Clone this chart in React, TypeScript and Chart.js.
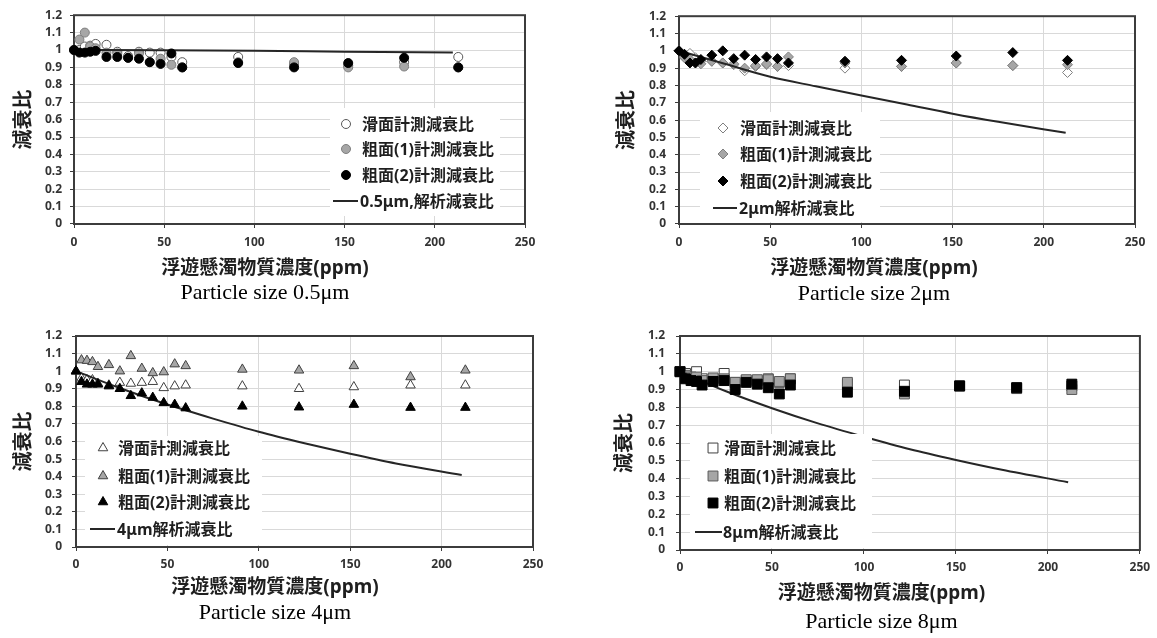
import React, { useEffect, useRef } from 'react';
import { Chart, registerables } from 'chart.js';
import { drawPoint } from 'chart.js/helpers';

Chart.register(...registerables);

// ---------- DATA ----------
const CONC = [0, 3, 6, 9, 12, 18, 24, 30, 36, 42, 48, 54, 60, 91, 122, 152, 183, 213];
const X_TICK_MIN = 0;
const X_TICK_MAX = 250;
const X_TICK_STEP = 50;
const Y_TICK_MIN = 0;
const Y_TICK_MAX = 1.2;
const Y_TICK_STEP = 0.1;

const SERIES_NAMES = ['滑面計測減衰比', '粗面(1)計測減衰比', '粗面(2)計測減衰比'];
const X_TITLE = '浮遊懸濁物質濃度(ppm)';
const Y_TITLE = '減衰比';

// 0.5 μm
const SMOOTH_05 = [1.0, 1.0, 1.02, 1.025, 1.035, 1.03, 0.99, 0.965, 0.99, 0.985, 0.985, 0.96, 0.93, 0.96, 0.92, 0.91, 0.93, 0.96];
const ROUGH1_05 = [1.0, 1.06, 1.1, 1.02, 1.01, 0.985, 0.98, 0.955, 0.98, 0.93, 0.95, 0.915, 0.9, 0.93, 0.93, 0.9, 0.905, 0.9];
const ROUGH2_05 = [1.0, 0.985, 0.985, 0.99, 0.995, 0.96, 0.96, 0.955, 0.95, 0.93, 0.92, 0.98, 0.9, 0.925, 0.9, 0.925, 0.955, 0.9];
const ANALYSIS_X_05 = [0, 50, 100, 150, 210];
const ANALYSIS_Y_05 = [1.0, 0.998, 0.995, 0.99, 0.985];

// 2 μm
const SMOOTH_2 = [1.0, 0.97, 0.985, 0.96, 0.94, 0.94, 0.93, 0.92, 0.885, 0.91, 0.92, 0.91, 0.915, 0.9, 0.91, 0.93, 0.915, 0.875];
const ROUGH1_2 = [1.0, 0.96, 0.95, 0.93, 0.925, 0.94, 0.93, 0.925, 0.9, 0.915, 0.925, 0.91, 0.965, 0.93, 0.91, 0.93, 0.915, 0.92];
const ROUGH2_2 = [1.0, 0.98, 0.93, 0.93, 0.95, 0.975, 1.0, 0.955, 0.975, 0.95, 0.965, 0.955, 0.93, 0.94, 0.945, 0.97, 0.99, 0.945];
const ANALYSIS_X_2 = [0, 25, 50, 75, 100, 125, 150, 175, 212];
const ANALYSIS_Y_2 = [1.0, 0.925, 0.85, 0.795, 0.742, 0.69, 0.637, 0.59, 0.527];

// 4 μm
const SMOOTH_4 = [1.0, 0.96, 0.95, 0.95, 0.93, 0.92, 0.935, 0.93, 0.935, 0.94, 0.905, 0.915, 0.92, 0.915, 0.9, 0.91, 0.92, 0.92];
const ROUGH1_4 = [1.0, 1.063, 1.06, 1.053, 1.025, 1.036, 1.0, 1.087, 1.015, 0.99, 0.995, 1.04, 1.03, 1.01, 1.005, 1.03, 0.967, 1.005];
const ROUGH2_4 = [1.0, 0.94, 0.925, 0.925, 0.925, 0.915, 0.9, 0.86, 0.875, 0.85, 0.82, 0.81, 0.79, 0.8, 0.795, 0.81, 0.793, 0.793];
const ANALYSIS_X_4 = [0, 25, 50, 75, 100, 125, 150, 175, 211];
const ANALYSIS_Y_4 = [1.0, 0.9, 0.81, 0.73, 0.655, 0.59, 0.53, 0.475, 0.41];

// 8 μm
const SMOOTH_8 = [1.0, 0.99, 0.97, 1.0, 0.96, 0.96, 0.99, 0.94, 0.95, 0.95, 0.96, 0.94, 0.96, 0.93, 0.925, 0.92, 0.91, 0.92];
const ROUGH1_8 = [1.0, 0.98, 0.97, 0.97, 0.95, 0.965, 0.96, 0.94, 0.955, 0.955, 0.955, 0.945, 0.96, 0.94, 0.875, 0.92, 0.905, 0.9];
const ROUGH2_8 = [1.0, 0.96, 0.95, 0.945, 0.925, 0.945, 0.95, 0.9, 0.94, 0.93, 0.91, 0.875, 0.925, 0.885, 0.89, 0.92, 0.91, 0.93];
const ANALYSIS_X_8 = [0, 25, 50, 75, 100, 125, 150, 175, 211];
const ANALYSIS_Y_8 = [1.0, 0.89, 0.795, 0.71, 0.635, 0.565, 0.505, 0.45, 0.38];

// ---------- STYLE / LAYOUT ----------
const SANS = '"Noto Sans", "Noto Sans CJK JP", sans-serif';
const SERIF = '"Liberation Serif", "DejaVu Serif", serif';
const TICK_SIZE = 12;
const TICK_LEN = 4;
const AXIS_TITLE_SIZE = 19;
const SUB_SIZE = 22;
const Y_TITLE_SIZE = 20;
const LEGEND_SIZE = 16;
const GRID = '#d9d9d9';
const FRAME = '#3c3c3c';
const TEXT = '#1f1f1f';

const PANELS = [
  {
    id: 'p05', subtitle: 'Particle size 0.5μm', lineLabel: '0.5μm,解析減衰比',
    smooth: SMOOTH_05, rough1: ROUGH1_05, rough2: ROUGH2_05, lineX: ANALYSIS_X_05, lineY: ANALYSIS_Y_05,
    pointStyle: 'circle', radius: 4.5, openBorder: '#595959', grayFill: '#a6a6a6', grayBorder: '#7f7f7f',
    canvas: { l: 0, t: 0, w: 560 }, area: { l: 74, t: 15, r: 525, b: 224 },
    tickY: 243, xTitleY: 269, subY: 293, titleCX: 265, yTitleCX: 24, yLabelRight: 62,
    legend: { box: [330, 108, 500, 216], markerX: 346, textX: 362, lineX1: 333, lineX2: 358, lineTextX: 360, rows: [124, 149, 175, 201] },
  },
  {
    id: 'p2', subtitle: 'Particle size 2μm', lineLabel: '2μm解析減衰比',
    smooth: SMOOTH_2, rough1: ROUGH1_2, rough2: ROUGH2_2, lineX: ANALYSIS_X_2, lineY: ANALYSIS_Y_2,
    pointStyle: 'rectRot', radius: 5, openBorder: '#7f7f7f', grayFill: '#a6a6a6', grayBorder: '#7f7f7f',
    canvas: { l: 580, t: 0, w: 577 }, area: { l: 679, t: 13, r: 1135, b: 224 },
    tickY: 243, xTitleY: 269, subY: 294, titleCX: 874, yTitleCX: 627, yLabelRight: 666,
    legend: { box: [700, 112, 880, 222], markerX: 723, textX: 740, lineX1: 713, lineX2: 737, lineTextX: 739, rows: [128, 154, 181, 208] },
  },
  {
    id: 'p4', subtitle: 'Particle size 4μm', lineLabel: '4μm解析減衰比',
    smooth: SMOOTH_4, rough1: ROUGH1_4, rough2: ROUGH2_4, lineX: ANALYSIS_X_4, lineY: ANALYSIS_Y_4,
    pointStyle: 'triangle', radius: 5.5, openBorder: '#404040', grayFill: '#a6a6a6', grayBorder: '#404040',
    canvas: { l: 0, t: 300, w: 560 }, area: { l: 76, t: 336, r: 533, b: 547 },
    tickY: 565, xTitleY: 588, subY: 613, titleCX: 275, yTitleCX: 24, yLabelRight: 62,
    legend: { box: [85, 436, 262, 545], markerX: 103, textX: 118, lineX1: 90, lineX2: 115, lineTextX: 117, rows: [448, 476, 502, 529] },
  },
  {
    id: 'p8', subtitle: 'Particle size 8μm', lineLabel: '8μm解析減衰比',
    smooth: SMOOTH_8, rough1: ROUGH1_8, rough2: ROUGH2_8, lineX: ANALYSIS_X_8, lineY: ANALYSIS_Y_8,
    pointStyle: 'rect', radius: 7, openBorder: '#404040', grayFill: '#a6a6a6', grayBorder: '#595959',
    canvas: { l: 580, t: 300, w: 577 }, area: { l: 680, t: 336, r: 1143, b: 550 },
    tickY: 568, xTitleY: 594, subY: 622, titleCX: 881.5, yTitleCX: 625, yLabelRight: 665,
    legend: { box: [690, 434, 872, 548], markerX: 713, textX: 724, lineX1: 695, lineX2: 722, lineTextX: 723, rows: [448, 476, 503, 532] },
  },
];

function layoutOf(p: any) {
  const L = p.canvas.l, T = p.canvas.t, W = p.canvas.w;
  const padRight = L + W - p.area.r;
  const padLeft = 2 * p.titleCX - L - p.area.r;
  const yw = p.area.l - L - padLeft;
  const padTop = p.area.t - T;
  const tickLH = TICK_SIZE * 1.2;
  const tickPadX = p.tickY - p.area.b - TICK_LEN - tickLH / 2;
  const xh = p.tickY - p.area.b + 8;
  const axisLH = AXIS_TITLE_SIZE * 1.2;
  const sTop = p.area.b + xh;
  const sPadTop = p.xTitleY - sTop - axisLH / 2;
  const sH = axisLH + sPadTop;
  const subLH = SUB_SIZE * 1.2;
  const tTop = sTop + sH;
  const tPadTop = p.subY - tTop - subLH / 2;
  const tH = subLH + tPadTop;
  const H = Math.ceil(tTop + tH + 2 - T);
  const padBottom = H - (tTop + tH - T);
  const yLH = Y_TITLE_SIZE * 1.2;
  const yTitlePad = p.yTitleCX - (L + padLeft) - yLH / 2;
  const yTickPad = p.area.l - TICK_LEN - p.yLabelRight;
  return { L, T, W, H, padLeft, padRight, padTop, padBottom, yw, xh, tickPadX, sPadTop, tPadTop, yTitlePad, yTickPad };
}

const framePlugin = {
  id: 'frame',
  beforeDatasetsDraw(chart: any, _args: any, opts: any) {
    const { ctx, chartArea: a } = chart;
    ctx.save();
    ctx.strokeStyle = opts.color;
    ctx.lineWidth = opts.width;
    ctx.strokeRect(a.left, a.top, a.right - a.left, a.bottom - a.top);
    ctx.restore();
  },
};

const insideLegendPlugin = {
  id: 'insideLegend',
  afterDatasetsDraw(chart: any, _args: any, opts: any) {
    const { ctx } = chart;
    const [x1, y1, x2, y2] = opts.box;
    ctx.save();
    ctx.fillStyle = '#ffffff';
    ctx.fillRect(x1, y1, x2 - x1, y2 - y1);
    ctx.font = opts.font;
    ctx.textBaseline = 'middle';
    ctx.textAlign = 'left';
    chart.data.datasets.forEach((ds: any, k: number) => {
      const y = opts.rows[k];
      if (ds.showLine) {
        ctx.strokeStyle = ds.borderColor;
        ctx.lineWidth = ds.borderWidth;
        ctx.beginPath();
        ctx.moveTo(opts.lineX1, y);
        ctx.lineTo(opts.lineX2, y);
        ctx.stroke();
      } else {
        ctx.fillStyle = ds.backgroundColor;
        ctx.strokeStyle = ds.borderColor;
        ctx.lineWidth = ds.borderWidth;
        drawPoint(ctx, { pointStyle: ds.pointStyle, radius: ds.pointRadius, borderWidth: ds.borderWidth, rotation: 0 } as any, opts.markerX, y);
      }
      ctx.fillStyle = opts.color;
      ctx.fillText(ds.label, ds.showLine ? opts.lineTextX : opts.textX, y + 1);
    });
    ctx.restore();
  },
};

function Panel({ p }: { p: any }) {
  const ref = useRef<HTMLCanvasElement>(null);
  const lay = layoutOf(p);
  useEffect(() => {
    if (!ref.current) return;
    const mk = (ys: number[]) => CONC.map((x, i) => ({ x, y: ys[i] }));
    const lg = p.legend;
    const chart = new Chart(ref.current, {
      type: 'scatter',
      data: {
        datasets: [
          { label: SERIES_NAMES[0], data: mk(p.smooth), pointStyle: p.pointStyle, pointRadius: p.radius, backgroundColor: '#ffffff', borderColor: p.openBorder, borderWidth: 1, showLine: false, order: 3, clip: false } as any,
          { label: SERIES_NAMES[1], data: mk(p.rough1), pointStyle: p.pointStyle, pointRadius: p.radius, backgroundColor: p.grayFill, borderColor: p.grayBorder, borderWidth: 1, showLine: false, order: 2, clip: false } as any,
          { label: SERIES_NAMES[2], data: mk(p.rough2), pointStyle: p.pointStyle, pointRadius: p.radius, backgroundColor: '#000000', borderColor: '#000000', borderWidth: 1, showLine: false, order: 0, clip: false } as any,
          { label: p.lineLabel, data: p.lineX.map((x: number, i: number) => ({ x, y: p.lineY[i] })), showLine: true, pointRadius: 0, borderColor: '#262626', backgroundColor: '#262626', borderWidth: 2, cubicInterpolationMode: 'monotone', order: 1, clip: false } as any,
        ],
      },
      options: {
        responsive: false,
        animation: false,
        devicePixelRatio: 1,
        events: [],
        layout: { autoPadding: false, padding: { left: lay.padLeft, right: lay.padRight, top: lay.padTop, bottom: lay.padBottom } },
        plugins: {
          legend: { display: false },
          tooltip: { enabled: false },
          subtitle: { display: true, position: 'bottom', text: X_TITLE, color: TEXT, font: { family: SANS, size: AXIS_TITLE_SIZE, weight: 'bold' }, padding: { top: lay.sPadTop, bottom: 0 } },
          title: { display: true, position: 'bottom', text: p.subtitle, color: '#000000', font: { family: SERIF, size: SUB_SIZE, weight: 'normal' }, padding: { top: lay.tPadTop, bottom: 0 } },
          frame: { color: FRAME, width: 2 },
          insideLegend: {
            box: [lg.box[0] - lay.L, lg.box[1] - lay.T, lg.box[2] - lay.L, lg.box[3] - lay.T],
            markerX: lg.markerX - lay.L, textX: lg.textX - lay.L, lineX1: lg.lineX1 - lay.L, lineX2: lg.lineX2 - lay.L, lineTextX: lg.lineTextX - lay.L,
            rows: lg.rows.map((r: number) => r - lay.T),
            font: `bold ${LEGEND_SIZE}px ${SANS}`, color: TEXT,
          },
        } as any,
        scales: {
          x: {
            type: 'linear', min: X_TICK_MIN, max: X_TICK_MAX,
            ticks: { stepSize: X_TICK_STEP, autoSkip: false, maxRotation: 0, padding: lay.tickPadX, color: '#333333', font: { family: SANS, size: TICK_SIZE, weight: 'bold' } },
            grid: { color: GRID, lineWidth: 1, tickLength: TICK_LEN, tickColor: FRAME },
            border: { display: false },
            afterFit: (s: any) => { s.height = lay.xh; },
          },
          y: {
            type: 'linear', min: Y_TICK_MIN, max: Y_TICK_MAX,
            ticks: { stepSize: Y_TICK_STEP, autoSkip: false, padding: lay.yTickPad, color: '#333333', font: { family: SANS, size: TICK_SIZE, weight: 'bold' }, callback: (v: any) => String(Math.round(Number(v) * 10) / 10) },
            grid: { color: GRID, lineWidth: 1, tickLength: TICK_LEN, tickColor: FRAME },
            border: { display: false },
            title: { display: true, text: Y_TITLE, color: TEXT, font: { family: SANS, size: Y_TITLE_SIZE, weight: 'bold' }, padding: { top: lay.yTitlePad, bottom: 0 } },
            afterFit: (s: any) => { s.width = lay.yw; },
          },
        } as any,
      },
      plugins: [framePlugin, insideLegendPlugin],
    } as any);
    return () => chart.destroy();
  }, []);
  return (
    <canvas
      ref={ref}
      width={lay.W}
      height={lay.H}
      style={{ position: 'absolute', left: lay.L, top: lay.T, width: lay.W, height: lay.H }}
    />
  );
}

export default function App() {
  return (
    <div style={{ position: 'absolute', left: 0, top: 0, width: 1157, height: 638, background: '#ffffff', overflow: 'hidden' }}>
      {PANELS.map((p) => (
        <Panel key={p.id} p={p} />
      ))}
    </div>
  );
}
